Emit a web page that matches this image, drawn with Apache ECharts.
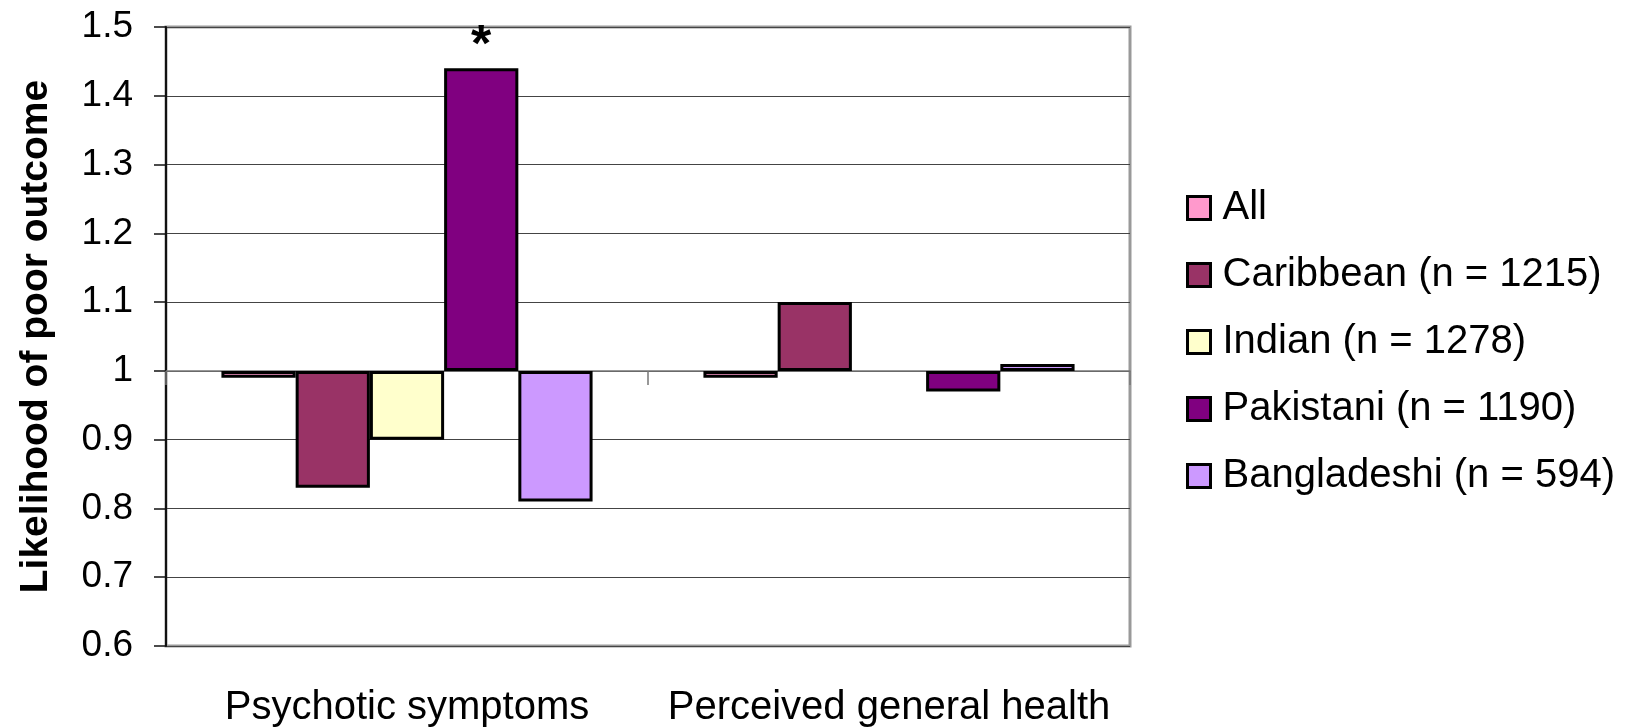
<!DOCTYPE html>
<html>
<head>
<meta charset="utf-8">
<script src="https://cdn.jsdelivr.net/npm/echarts@6/dist/echarts.min.js"></script>
<style>
html,body{margin:0;padding:0;background:#fff;}
#chart{width:1646px;height:728px;}
</style>
</head>
<body>
<div id="chart"></div>
<script>
// ---- data ----
const categories = ['Psychotic symptoms', 'Perceived general health'];
const seriesNames = ['All', 'Caribbean (n = 1215)', 'Indian (n = 1278)', 'Pakistani (n = 1190)', 'Bangladeshi (n = 594)'];
const allValues = [0.99, 0.99];
const caribbeanValues = [0.83, 1.10];
const indianValues = [0.90, null];
const pakistaniValues = [1.44, 0.97];
const bangladeshiValues = [0.81, 1.01];
const baseline = 1; // bars grow from the reference value 1
const significant = [[false, false], [false, false], [false, false], [true, false], [false, false]];
const yTicks = [0.6, 0.7, 0.8, 0.9, 1, 1.1, 1.2, 1.3, 1.4, 1.5];
const colors = ['#FF99CC', '#993366', '#FFFFCC', '#800080', '#CC99FF'];

const valueSets = [allValues, caribbeanValues, indianValues, pakistaniValues, bangladeshiValues];
const FONT = '"Liberation Sans", Arial, sans-serif';

const series = valueSets.map((vals, si) => ({
  name: seriesNames[si],
  type: 'bar',
  xAxisIndex: 0,
  barGap: '0%',
  barCategoryGap: '23%',
  itemStyle: { color: colors[si], borderColor: '#000', borderWidth: 3 },
  emphasis: { disabled: true },
  data: vals.map((v, ci) => {
    if (v === null) return '-';
    const item = { value: +(v - baseline).toFixed(4) };
    if (significant[si][ci]) {
      item.label = {
        show: true, position: 'top', formatter: '*', distance: -4,
        fontSize: 52, fontWeight: 'bold', color: '#000', fontFamily: FONT
      };
    }
    return item;
  })
}));

const chart = echarts.init(document.getElementById('chart'), null, { renderer: 'canvas' });
chart.setOption({
  animation: false,
  backgroundColor: '#fff',
  color: colors,
  grid: {
    left: 166, top: 27, right: 516, bottom: 80,
    show: true, borderColor: '#999', borderWidth: 3, backgroundColor: 'transparent'
  },
  legend: {
    orient: 'vertical',
    left: 1181, top: 182,
    itemWidth: 23, itemHeight: 23, itemGap: 25,
    icon: 'rect',
    itemStyle: { borderColor: '#000', borderWidth: 3 },
    textStyle: { fontSize: 40, color: '#000', fontFamily: FONT, lineHeight: 42, padding: [0, 0, 0, 7] },
    data: seriesNames
  },
  xAxis: [
    {
      type: 'category', data: categories, position: 'bottom',
      axisLine: { onZero: true, lineStyle: { color: '#777', width: 1.5 } },
      axisTick: { show: true, length: 14, interval: 0, lineStyle: { color: '#777', width: 1.5 } },
      axisLabel: { show: false },
      splitLine: { show: false }
    },
    {
      type: 'category', data: categories, position: 'bottom',
      axisLine: { show: false, onZero: false },
      axisTick: { show: false },
      axisLabel: { show: true, fontSize: 40, color: '#000', fontFamily: FONT, margin: 42, interval: 0 },
      splitLine: { show: false }
    }
  ],
  yAxis: {
    type: 'value',
    min: yTicks[0] - baseline,
    max: yTicks[yTicks.length - 1] - baseline,
    interval: 0.1,
    name: 'Likelihood of poor outcome',
    nameLocation: 'middle',
    nameGap: 110,
    nameTextStyle: { fontSize: 39, fontWeight: 'bold', color: '#000', fontFamily: FONT },
    axisLine: { show: true, lineStyle: { color: '#111', width: 2 } },
    axisTick: { show: true, length: 12, lineStyle: { color: '#111', width: 1.5 } },
    axisLabel: {
      fontSize: 37, color: '#000', fontFamily: FONT, margin: 33,
      formatter: v => String(Math.round((v + baseline) * 10) / 10)
    },
    splitLine: { show: true, lineStyle: { color: '#444', width: 1 } }
  },
  series: series
});
</script>
</body>
</html>
